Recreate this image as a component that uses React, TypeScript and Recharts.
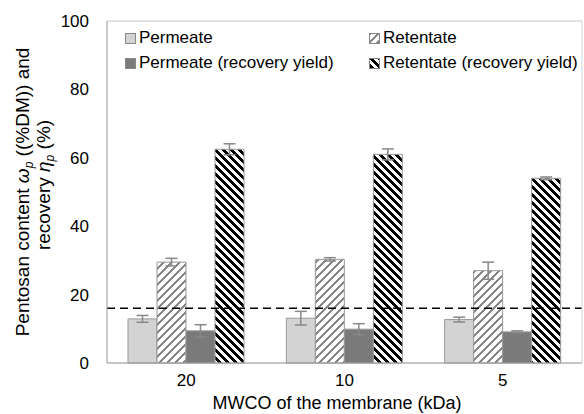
import React from 'react';
import {
  BarChart,
  Bar,
  XAxis,
  YAxis,
  CartesianGrid,
  ErrorBar,
  Legend,
  ReferenceLine,
} from 'recharts';

const categories = ['20', '10', '5'];
const permeate = [12.9, 13.1, 12.7];
const permeateErr = [1.0, 2.0, 0.7];
const retentate = [29.5, 30.3, 27.0];
const retentateErr = [1.1, 0.5, 2.5];
const permeateYield = [9.4, 9.9, 9.1];
const permeateYieldErr = [1.8, 1.6, 0.3];
const retentateYield = [62.5, 61.0, 54.0];
const retentateYieldErr = [1.6, 1.6, 0.4];
const yTicks = [0, 20, 40, 60, 80, 100];
const threshold = 16;

const data = categories.map((c, i) => ({
  mwco: c,
  permeate: permeate[i],
  permeateErr: permeateErr[i],
  retentate: retentate[i],
  retentateErr: retentateErr[i],
  permeateYield: permeateYield[i],
  permeateYieldErr: permeateYieldErr[i],
  retentateYield: retentateYield[i],
  retentateYieldErr: retentateYieldErr[i],
}));

const FONT = '"Liberation Sans", Arial, sans-serif';

// 8x8 pixel stripe tile, dir 1 = "/" and -1 = "\"
const stripeTile = (w: number, dir: number, color: string) => {
  const rects = [];
  for (let r = 0; r < 8; r++) {
    for (let k = 0; k < w; k++) {
      const c = (((k - dir * r) % 8) + 8) % 8;
      rects.push(<rect key={r + '-' + k} x={c} y={r} width={1} height={1} fill={color} />);
    }
  }
  return rects;
};

const Patterns = ({ prefix }: { prefix: string }) => (
  <defs>
    <pattern id={prefix + 'ret'} width={8} height={8} patternUnits="userSpaceOnUse">
      <rect width={8} height={8} fill="#fff" />
      {stripeTile(3, 1, '#8a8a8a')}
    </pattern>
    <pattern id={prefix + 'retY'} width={8} height={8} patternUnits="userSpaceOnUse">
      <rect width={8} height={8} fill="#fff" />
      {stripeTile(4, -1, '#000')}
    </pattern>
  </defs>
);

const legendItems = [
  { label: 'Permeate', fill: '#d2d3d2', x: 125, y: 38 },
  { label: 'Retentate', fill: 'url(#lgret)', x: 369, y: 38 },
  { label: 'Permeate (recovery yield)', fill: '#7a7a7a', x: 125, y: 63 },
  { label: 'Retentate (recovery yield)', fill: 'url(#lgretY)', x: 369, y: 63 },
];

const renderLegend = () => (
  <div style={{ position: 'relative', width: 584, height: 80 }}>
    <svg width={0} height={0} style={{ position: 'absolute' }}>
      <Patterns prefix="lg" />
    </svg>
    {legendItems.map((it) => (
      <div
        key={it.label}
        style={{
          position: 'absolute',
          left: it.x,
          top: it.y - 10,
          height: 20,
          display: 'flex',
          alignItems: 'center',
          fontFamily: FONT,
          fontSize: 17,
          color: '#000',
          whiteSpace: 'nowrap',
        }}
      >
        <svg width={11} height={11} style={{ marginRight: 3 }}>
          <rect x={0.5} y={0.5} width={10} height={10} fill={it.fill} stroke="#888" />
        </svg>
        {it.label}
      </div>
    ))}
  </div>
);

const renderYLabel = () => (
  <text transform="rotate(-90)" textAnchor="middle" fontFamily={FONT} fontSize={19} fill="#000">
    <tspan x={-192} y={29}>
      Pentosan content{' '}
      <tspan fontStyle="italic">ω</tspan>
      <tspan fontStyle="italic" fontSize={12} dy={4}>p</tspan>
      <tspan dy={-4}> ((%DM)) and</tspan>
    </tspan>
    <tspan x={-185} y={50}>
      recovery <tspan fontStyle="italic">η</tspan>
      <tspan fontStyle="italic" fontSize={12} dy={4}>p</tspan>
      <tspan dy={-4}> (%)</tspan>
    </tspan>
  </text>
);

const renderXLabel = () => (
  <text x={337} y={409} textAnchor="middle" fontFamily={FONT} fontSize={18} fill="#000">
    MWCO of the membrane (kDa)
  </text>
);

export default function App() {
  return (
    <div style={{ position: 'absolute', left: 0, top: 0, width: 584, height: 414, background: '#fff' }}>
      <BarChart
        width={584}
        height={414}
        data={data}
        margin={{ top: 21, right: 0, left: 0, bottom: 0 }}
        barGap={0}
        barSize={29}
      >
        <Patterns prefix="ch" />
        <CartesianGrid vertical={false} stroke="#e4e4e4" />
        <XAxis
          dataKey="mwco"
          height={51}
          axisLine={{ stroke: '#999' }}
          tickLine={false}
          tickMargin={5}
          tick={{ fontFamily: FONT, fontSize: 17, fill: '#000' }}
          label={{ content: renderXLabel }}
        />
        <YAxis
          yAxisId="left"
          width={107}
          domain={[0, 100]}
          ticks={yTicks}
          axisLine={{ stroke: '#999' }}
          tickLine={false}
          tickMargin={12}
          tick={{ fontFamily: FONT, fontSize: 17, fill: '#000' }}
          label={{ content: renderYLabel }}
        />
        <YAxis
          yAxisId="right"
          orientation="right"
          width={2}
          domain={[0, 100]}
          tick={false}
          tickLine={false}
          axisLine={{ stroke: '#d4d4d4' }}
        />
        <Legend
          layout="vertical"
          verticalAlign="middle"
          align="center"
          content={renderLegend}
          wrapperStyle={{ position: 'absolute', top: 0, left: 0, width: 584, height: 80 }}
        />
        <Bar yAxisId="left" dataKey="permeate" fill="#d2d3d2" stroke="#999" isAnimationActive={false}>
          <ErrorBar dataKey="permeateErr" width={6} stroke="#888" direction="y" />
        </Bar>
        <Bar yAxisId="left" dataKey="retentate" fill="url(#chret)" stroke="#999" isAnimationActive={false}>
          <ErrorBar dataKey="retentateErr" width={6} stroke="#888" direction="y" />
        </Bar>
        <Bar yAxisId="left" dataKey="permeateYield" fill="#7a7a7a" stroke="#999" isAnimationActive={false}>
          <ErrorBar dataKey="permeateYieldErr" width={6} stroke="#888" direction="y" />
        </Bar>
        <Bar yAxisId="left" dataKey="retentateYield" fill="url(#chretY)" stroke="#999" isAnimationActive={false}>
          <ErrorBar dataKey="retentateYieldErr" width={6} stroke="#888" direction="y" />
        </Bar>
        <ReferenceLine yAxisId="left" y={threshold} stroke="#000" strokeWidth={1.5} strokeDasharray="8 5" />
        <ReferenceLine yAxisId="left" y={100} stroke="#d4d4d4" />
      </BarChart>
    </div>
  );
}
